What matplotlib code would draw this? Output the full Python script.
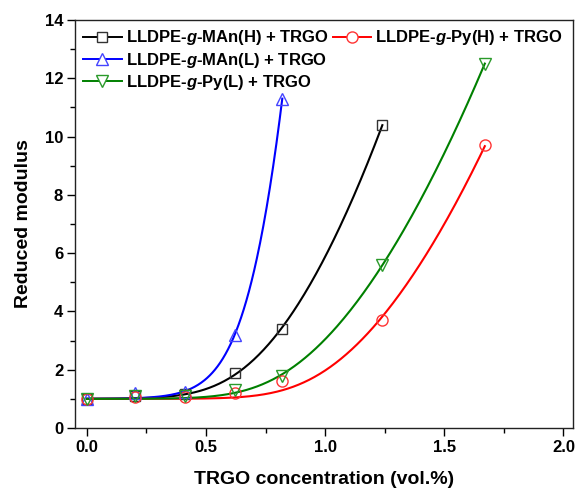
import numpy as np
import matplotlib
matplotlib.use("Agg")
import matplotlib.pyplot as plt
from matplotlib.lines import Line2D

plt.rcParams['font.family'] = ['Liberation Sans', 'DejaVu Sans']
plt.rcParams['font.weight'] = 'bold'
plt.rcParams['mathtext.fontset'] = 'custom'
plt.rcParams['mathtext.it'] = 'Liberation Sans:italic:bold'
plt.rcParams['mathtext.rm'] = 'Liberation Sans:bold'

# Data
x_man_h = [0.0, 0.2, 0.41, 0.62, 0.82, 1.24]
y_man_h = [1.0, 1.1, 1.15, 1.9, 3.4, 10.4]
x_man_l = [0.0, 0.2, 0.41, 0.62, 0.82]
y_man_l = [1.0, 1.2, 1.25, 3.2, 11.3]
x_py_h = [0.0, 0.2, 0.41, 0.62, 0.82, 1.24, 1.67]
y_py_h = [1.0, 1.05, 1.05, 1.2, 1.6, 3.7, 9.7]
x_py_l = [0.0, 0.2, 0.41, 0.62, 0.82, 1.24, 1.67]
y_py_l = [1.0, 1.1, 1.1, 1.3, 1.8, 5.6, 12.5]

labels = [r'LLDPE-$g$-MAn(H) + TRGO', r'LLDPE-$g$-MAn(L) + TRGO',
          r'LLDPE-$g$-Py(H) + TRGO', r'LLDPE-$g$-Py(L) + TRGO']

T_EXP = 1.8  # percolation exponent used for the fitted curves


def softplus(z, w):
    return w * np.logaddexp(0.0, z / w)


def perc_fit(x, y, t=T_EXP, w=0.15):
    """Percolation-type fit: y = 1 + a*softplus(x - xc)^t."""
    x = np.asarray(x, float)
    y = np.asarray(y, float)
    best = None
    for xc in np.linspace(0.0, 1.2, 241):
        g = softplus(x - xc, w) ** t
        a = np.dot(g, y - 1.0) / np.dot(g, g)
        r = np.sum((a * g - (y - 1.0)) ** 2)
        if best is None or r < best[0]:
            best = (r, a, xc)
    _, a, xc = best
    xs = np.linspace(x.min(), x.max(), 300)
    return xs, 1.0 + a * softplus(xs - xc, w) ** t


fig = plt.figure(figsize=(5.79, 4.94), dpi=100)
ax = fig.add_axes([0.1295, 0.1336, 0.8601, 0.8259])

series = [
    (x_man_h, y_man_h, 'black', 's', '#333333', 7.5, labels[0]),
    (x_man_l, y_man_l, '#0000ff', '^', '#4444ff', 8.5, labels[1]),
    (x_py_h, y_py_h, '#ff0000', 'o', '#ff3333', 8, labels[2]),
    (x_py_l, y_py_l, '#008000', 'v', '#2a9a2a', 8.5, labels[3]),
]
handles = []
for xs, ys, col, mk, mcol, ms, lab in series:
    fx, fy = perc_fit(xs, ys)
    ax.plot(fx, fy, color=col, lw=1.5, zorder=2)
    ax.plot(xs, ys, ls='none', marker=mk, ms=ms, mfc='none', mec=mcol,
            mew=1.0, zorder=3)
    handles.append(Line2D([], [], color=col, lw=1.4, marker=mk, ms=ms,
                          mfc='white', mec=mcol, mew=1.0, label=lab))

blank = Line2D([], [], color='none')
ax.legend([handles[0], handles[1], handles[3], handles[2], blank, blank],
          [labels[0], labels[1], labels[3], labels[2], '', ''],
          ncol=2, loc='upper left', frameon=False, fontsize=12,
          borderaxespad=0.1, handlelength=2.3, handletextpad=0.25,
          columnspacing=0.25, labelspacing=0.2)

ax.set_xlim(-0.05, 2.04)
ax.set_ylim(0, 14)
ax.set_xticks([0.0, 0.5, 1.0, 1.5, 2.0])
ax.set_xticklabels(['0.0', '0.5', '1.0', '1.5', '2.0'])
ax.set_xticks([0.25, 0.75, 1.25, 1.75], minor=True)
ax.set_yticks(range(0, 15, 2))
ax.set_yticks(range(1, 15, 2), minor=True)
ax.tick_params(which='both', direction='out', top=False, right=False,
               labelsize=12, width=1.0)
ax.tick_params(which='major', length=5.5, pad=3)
ax.tick_params(which='minor', length=3.5)
for s in ax.spines.values():
    s.set_linewidth(1.0)
    s.set_color('#222222')

ax.set_xlabel('TRGO concentration (vol.%)', fontsize=14, fontweight='bold',
              labelpad=12)
ax.set_ylabel('Reduced modulus', fontsize=14, fontweight='bold', labelpad=9)

fig.savefig('out.png', dpi=100)
